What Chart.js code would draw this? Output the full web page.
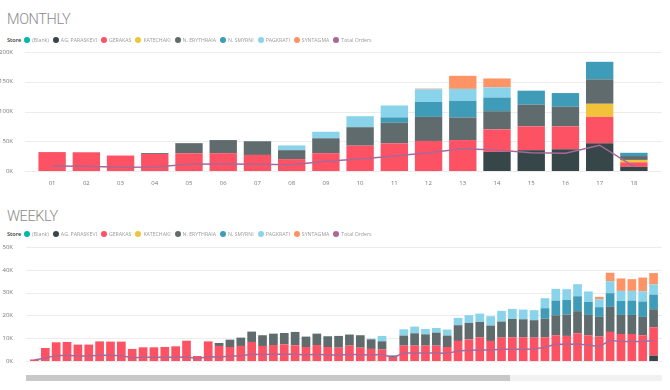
<!DOCTYPE html>
<html>
<head>
<meta charset="utf-8">
<title>Store sales</title>
<script src="https://cdn.jsdelivr.net/npm/chart.js"></script>
<style>
    body { margin: 0; width: 670px; height: 390px; background: #fff; position: relative; overflow: hidden; font-family: "Open Sans", sans-serif; }
    .title { position: absolute; left: 7px; font-family: Roboto, sans-serif; font-weight: 300; font-size: 14.5px; letter-spacing: -0.4px; color: #8a8a8a; line-height: 18px; }
    .legend { position: absolute; left: 7px; height: 10px; font-size: 5.2px; white-space: nowrap; display: flex; align-items: center; }
    .legend b { color: #333; font-weight: 600; margin-right: 3px; font-size: 5.6px; }
    .legend .dot { display: inline-block; width: 6px; height: 6px; border-radius: 50%; margin-right: 2px; }
    .legend .txt { color: #9a9a9a; filter: blur(0.5px); margin-right: 4px; }
    canvas { position: absolute; left: 0; }
    .track { position: absolute; left: 26px; top: 375px; width: 636px; height: 6px; background: #f1f1f1; }
    .thumb { position: absolute; left: 26px; top: 375px; width: 484px; height: 6px; background: #c8c8c8; }
</style>
</head>
<body>
    <div class="title" style="top:11px">MONTHLY</div>
    <div class="legend" id="legendM" style="top:35px"></div>
    <canvas id="monthly" width="670" height="195" style="top:0"></canvas>

    <div class="title" style="top:208px">WEEKLY</div>
    <div class="legend" id="legendW" style="top:229px"></div>
    <canvas id="weekly" width="670" height="195" style="top:195px"></canvas>
    <div class="track"></div>
    <div class="thumb"></div>
<script>
    // legend entries
    const storeNames = ['(Blank)', 'AG. PARASKEVI', 'GERAKAS', 'KATECHAKI', 'N. ERYTHRAIA', 'N. SMYRNI', 'PAGKRATI', 'SYNTAGMA', 'Total Orders'];
    const storeColors = ['#01B8AA', '#374649', '#FD5264', '#F2C33A', '#5F6B6D', '#3F9CB8', '#8AD4EB', '#FE9366', '#A66999'];

    // monthly data
    const months = ['01','02','03','04','05','06','07','08','09','10','11','12','13','14','15','16','17','18'];
    const mParaskevi = [0, 0, 0, 0, 0, 0, 0, 0, 0, 0, 0, 0, 0, 32000, 35000, 36500, 46600, 7000];
    const mGerakas = [31800, 31500, 26000, 28600, 29800, 30000, 27000, 20000, 30000, 42600, 46600, 50500, 52000, 38000, 40000, 38500, 44400, 7600];
    const mKatechaki = [0, 0, 0, 0, 0, 0, 0, 0, 0, 0, 0, 0, 0, 0, 0, 0, 22000, 4000];
    const mErythraia = [0, 0, 0, 1500, 17000, 22000, 23000, 15000, 25000, 31000, 34500, 40500, 38000, 30500, 36500, 33000, 41000, 6500];
    const mSmyrni = [0, 0, 0, 0, 0, 0, 0, 0, 0, 0, 9000, 25000, 28000, 23000, 23500, 23000, 29500, 5500];
    const mPagkrati = [0, 0, 0, 0, 0, 0, 0, 8000, 11000, 18500, 20000, 21500, 20000, 17000, 0, 0, 0, 0];
    const mSyntagma = [0, 0, 0, 0, 0, 0, 0, 0, 0, 0, 0, 1000, 22000, 15000, 0, 0, 0, 0];
    const mOrders = [168, 158, 124, 134, 226, 236, 226, 212, 326, 404, 506, 616, 750, 708, 616, 596, 866, 144];

    // weekly data
    const weeks = ['01','02','03','04','05','06','07','08','09','10','11','12','13','14','15','16','17','18','19','20',
                   '21','22','23','24','25','26','27','28','29','30','31','32','33','34','35','36','37','38','39','40',
                   '41','42','43','44','45','46','47','48','49','50','51','52','53','54','55','56','57','58'];
    const wParaskevi = [0, 0, 0, 0, 0, 0, 0, 0, 0, 0, 0, 0, 0, 0, 0, 0, 0, 0, 0, 0,
                        0, 0, 0, 0, 0, 0, 0, 0, 0, 0, 0, 0, 0, 0, 0, 0, 0, 0, 0, 0,
                        0, 0, 0, 0, 0, 0, 0, 0, 0, 0, 0, 0, 0, 0, 0, 0, 0, 2350];
    const wGerakas = [700, 5700, 8200, 8350, 7200, 7200, 8600, 8500, 8500, 5300, 6000, 6000, 6150, 6450, 8900, 2200, 8600, 6600, 6150, 6600,
                      8350, 6600, 7000, 7300, 6900, 6150, 7000, 6150, 5850, 6750, 5850, 5300, 5000, 1750, 6750, 6750, 6750, 6750, 6150, 8800,
                      9500, 10400, 8800, 10250, 10400, 10400, 10250, 10400, 11300, 11000, 12150, 11300, 10700, 12750, 11850, 11850, 11300, 12450];
    const wErythraia = [0, 0, 0, 0, 0, 0, 0, 0, 0, 0, 0, 0, 0, 0, 0, 0, 0, 1300, 3200, 3650,
                        4550, 4700, 5000, 5000, 5850, 4550, 5000, 4700, 5150, 4850, 5450, 4200, 3650, 600, 4400, 5400, 4950, 5700, 5000, 6900,
                        7200, 6750, 6750, 7050, 8050, 7900, 7650, 8200, 8750, 9350, 9700, 8900, 8650, 11000, 8350, 8350, 8050, 7900];
    const wSmyrni = [0, 0, 0, 0, 0, 0, 0, 0, 0, 0, 0, 0, 0, 0, 0, 0, 0, 0, 0, 0,
                     0, 0, 0, 0, 0, 0, 0, 0, 0, 0, 0, 0, 0, 0, 0, 0, 0, 0, 0, 0,
                     0, 0, 0, 0, 0, 0, 0, 4550, 6450, 6450, 6550, 5750, 4250, 6000, 6150, 6300, 6750, 6450];
    const wPagkrati = [0, 0, 0, 0, 0, 0, 0, 0, 0, 0, 0, 0, 0, 0, 0, 0, 0, 0, 0, 0,
                       0, 0, 0, 0, 0, 0, 0, 0, 0, 0, 0, 300, 2350, 300, 2750, 2950, 2350, 2050, 2650, 3200,
                       3400, 3650, 4100, 4700, 4400, 4250, 4400, 4400, 5150, 4700, 5300, 4550, 3500, 5250, 4400, 4250, 4500, 4400];
    const wSyntagma = [0, 0, 0, 0, 0, 0, 0, 0, 0, 0, 0, 0, 0, 0, 0, 0, 0, 0, 0, 0,
                       0, 0, 0, 0, 0, 0, 0, 0, 0, 0, 0, 0, 0, 0, 0, 0, 0, 0, 0, 0,
                       0, 0, 0, 0, 0, 0, 0, 0, 0, 0, 0, 0, 1050, 3700, 5450, 5150, 6000, 5000];
    const wOrders = [9, 26, 47, 50, 44, 44, 50, 50, 47, 29, 32, 32, 32, 32, 35, 21, 38, 35, 41, 47,
                     59, 56, 59, 59, 59, 53, 59, 53, 53, 56, 56, 50, 59, 29, 70, 70, 70, 70, 67, 88,
                     94, 97, 97, 103, 103, 103, 105, 120, 147, 147, 149, 141, 126, 182, 170, 170, 170, 179];

    // html legends
    function buildLegend(id) {
        let html = '<b>Store</b>';
        storeNames.forEach((name, i) => {
            html += `<span class="dot" style="background:${storeColors[i]}"></span><span class="txt">${name}</span>`;
        });
        document.getElementById(id).innerHTML = html;
    }
    buildLegend('legendM');
    buildLegend('legendW');

    Chart.defaults.font.family = '"Open Sans", sans-serif';
    Chart.defaults.font.size = 6;
    Chart.defaults.color = '#777';

    // gridlines in Power BI run a little past the plot area
    const wideGrid = {
        id: 'wideGrid',
        beforeDatasetsDraw(chart, args, opts) {
            const y = chart.scales.y;
            const ctx = chart.ctx;
            ctx.save();
            ctx.strokeStyle = '#ececec';
            ctx.lineWidth = 1;
            y.ticks.forEach((t, i) => {
                const py = Math.round(y.getPixelForTick(i)) + 0.5;
                ctx.beginPath();
                ctx.moveTo(opts.from, py);
                ctx.lineTo(opts.to, py);
                ctx.stroke();
            });
            ctx.restore();
        }
    };

    function makeChart(canvasId, labels, series, orders, cfg) {
        const datasets = series.map(s => ({
            type: 'bar',
            label: s.name,
            data: s.data,
            backgroundColor: storeColors[storeNames.indexOf(s.name)],
            borderWidth: 0,
            barPercentage: 0.8,
            categoryPercentage: 1,
            order: 1
        }));
        datasets.push({
            type: 'line',
            label: 'Total Orders',
            data: orders,
            yAxisID: 'y2',
            borderColor: '#A66999',
            borderWidth: 1.5,
            pointRadius: 0,
            tension: 0,
            order: 0
        });

        new Chart(document.getElementById(canvasId).getContext('2d'), {
            data: { labels: labels, datasets: datasets },
            options: {
                responsive: false,
                animation: false,
                devicePixelRatio: 1,
                layout: { padding: { top: cfg.top, right: cfg.right, left: 0, bottom: 0 } },
                plugins: {
                    legend: { display: false },
                    tooltip: { enabled: false },
                    wideGrid: { from: cfg.gridFrom, to: cfg.gridTo }
                },
                scales: {
                    x: {
                        stacked: true,
                        grid: { display: false },
                        border: { display: false },
                        ticks: { autoSkip: false, maxRotation: 0, padding: cfg.xPad },
                        afterFit: s => { s.height = cfg.xHeight; }
                    },
                    y: {
                        stacked: true,
                        min: 0,
                        max: cfg.max,
                        grid: { display: false },
                        border: { display: false },
                        ticks: { stepSize: cfg.step, padding: cfg.yPad, callback: v => (v / 1000) + 'K' },
                        afterFit: s => { s.width = cfg.yWidth; }
                    },
                    y2: { display: false, min: 0, max: cfg.ordersMax }
                }
            },
            plugins: [wideGrid]
        });
    }

    makeChart('monthly', months, [
        { name: 'AG. PARASKEVI', data: mParaskevi },
        { name: 'GERAKAS', data: mGerakas },
        { name: 'KATECHAKI', data: mKatechaki },
        { name: 'N. ERYTHRAIA', data: mErythraia },
        { name: 'N. SMYRNI', data: mSmyrni },
        { name: 'PAGKRATI', data: mPagkrati },
        { name: 'SYNTAGMA', data: mSyntagma }
    ], mOrders, {
        top: 52, right: 19, yWidth: 35, yPad: 14, xHeight: 24, xPad: 1,
        max: 200000, step: 50000, ordersMax: 4000, gridFrom: 25, gridTo: 662
    });

    makeChart('weekly', weeks, [
        { name: 'AG. PARASKEVI', data: wParaskevi },
        { name: 'GERAKAS', data: wGerakas },
        { name: 'N. ERYTHRAIA', data: wErythraia },
        { name: 'N. SMYRNI', data: wSmyrni },
        { name: 'PAGKRATI', data: wPagkrati },
        { name: 'SYNTAGMA', data: wSyntagma }
    ], wOrders, {
        top: 52, right: 11, yWidth: 29, yPad: 8, xHeight: 29, xPad: 7,
        max: 50000, step: 10000, ordersMax: 1000, gridFrom: 26, gridTo: 662
    });
</script>
</body>
</html>
